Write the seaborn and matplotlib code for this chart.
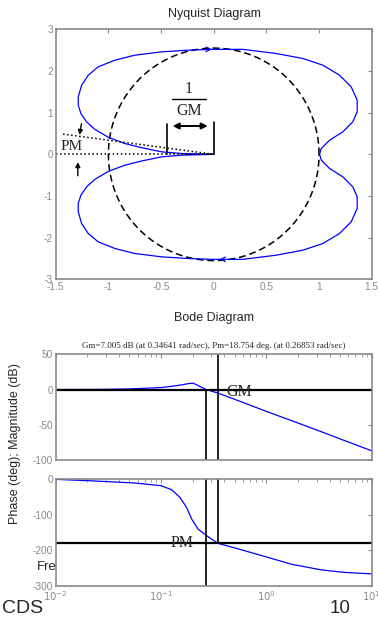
import numpy as np
import pandas as pd
import matplotlib
matplotlib.use("Agg")
import matplotlib.pyplot as plt
import seaborn as sns

sns.set_style("white")
plt.rcParams["font.family"] = ["Liberation Sans", "DejaVu Sans"]
plt.rcParams["axes.unicode_minus"] = False

# -----------------------------------------------------------------------------
# Data
# -----------------------------------------------------------------------------

# Nyquist curve, upper half, from the origin out to the point (1, 0)
nyq_re = [0.0, -0.306, -0.496, -0.685, -0.844, -1.001, -1.128, -1.207, -1.261,
          -1.286, -1.286, -1.254, -1.191, -1.097, -0.938, -0.749, -0.496, -0.243,
          -0.022, 0.278, 0.594, 0.847, 1.036, 1.194, 1.305, 1.362, 1.362, 1.320,
          1.226, 1.100, 1.021, 1.005]
nyq_im = [0.0, 0.02, 0.06, 0.16, 0.26, 0.41, 0.60, 0.78, 0.98,
          1.18, 1.38, 1.66, 1.90, 2.10, 2.26, 2.38, 2.46, 2.50,
          2.52, 2.52, 2.42, 2.30, 2.14, 1.90, 1.62, 1.30, 1.02, 0.78,
          0.54, 0.34, 0.14, 0.0]

# dashed reference circle (radius in x units / y units, the plot is not square)
circle_rx = 1.0
circle_ry = 2.55

# Bode magnitude
mag_w = [0.01, 0.02, 0.03, 0.05, 0.1, 0.13, 0.157, 0.18, 0.202, 0.2685,
         0.3464, 0.5, 1.04, 2.0, 3.34, 5.0, 10.0]
mag_db = [0.0, 0.1, 0.3, 0.8, 2.8, 4.8, 6.6, 8.3, 9.0, 0.0,
          -5.0, -13.9, -32.0, -47.6, -60.0, -70.0, -87.0]

# Bode phase
phase_w = [0.01, 0.0205, 0.0565, 0.1, 0.126, 0.151, 0.175, 0.195, 0.225, 0.271,
           0.344, 0.582, 1.04, 1.73, 3.34, 5.56, 10.0]
phase_deg = [-1, -4.7, -11.2, -18.7, -30, -51.5, -80, -112, -140.6, -159,
             -180, -198.7, -220, -239, -255, -262, -266]

# margins
gm_db = 7.005
gm_freq = 0.34641
pm_deg = 18.754
pm_freq = 0.26853

nyq_xticks = [-1.5, -1, -0.5, 0, 0.5, 1, 1.5]
nyq_xlabels = ["-1.5", "-1", "-0.5", "0", "0.5", "1", "1.5"]
nyq_yticks = [-3, -2, -1, 0, 1, 2, 3]
bode_xticks = [0.01, 0.1, 1, 10]
bode_xlabels = ["$10^{-2}$", "$10^{-1}$", "$10^{0}$", "$10^{1}$"]

grey = "#8a8a8a"
serif = ["Liberation Serif", "DejaVu Serif"]

# upper half + mirrored lower half -> closed contour
nyq = pd.DataFrame({
    "re": nyq_re + nyq_re[::-1][1:],
    "im": nyq_im + [-v for v in nyq_im[::-1][1:]],
})

fig = plt.figure(figsize=(3.78, 6.18), dpi=100)
ax_n = fig.add_axes([0.1474, 0.548, 0.836, 0.4045])
ax_m = fig.add_axes([0.1474, 0.2557, 0.836, 0.171])
ax_p = fig.add_axes([0.1474, 0.0518, 0.836, 0.1731])


def style_axes(ax):
    for s in ax.spines.values():
        s.set_color(grey)
        s.set_linewidth(1.2)
    ax.tick_params(which="both", direction="in", top=True, right=True,
                   color=grey, labelcolor=grey, labelsize=7.3, pad=2)
    ax.tick_params(which="major", length=3)
    ax.tick_params(which="minor", length=2)


# =============================================================================
# Nyquist Diagram
# =============================================================================
theta = np.linspace(0, 2 * np.pi, 300)
sns.lineplot(x=circle_rx * np.cos(theta), y=circle_ry * np.sin(theta), sort=False,
             estimator=None, ax=ax_n, color="black", linestyle=(0, (4.5, 2.5)),
             linewidth=1.1)
sns.lineplot(data=nyq, x="re", y="im", sort=False, estimator=None, ax=ax_n,
             color="blue", linewidth=0.9)

# direction arrows on the curve
i_top = 18
ax_n.annotate("", xy=(nyq_re[i_top] + 0.03, nyq_im[i_top]),
              xytext=(nyq_re[i_top] - 0.06, nyq_im[i_top]),
              arrowprops=dict(arrowstyle="->", color="blue", lw=0.9,
                              mutation_scale=8))
ax_n.annotate("", xy=(nyq_re[i_top] + 0.05, -nyq_im[i_top]),
              xytext=(nyq_re[i_top] + 0.14, -nyq_im[i_top]),
              arrowprops=dict(arrowstyle="->", color="blue", lw=0.9,
                              mutation_scale=8))

# phase margin construction
pm_len = 1.43
ax_n.plot([-1.5, 0], [0, 0], color="black", linestyle=":", linewidth=1.1)
ax_n.plot([-pm_len, 0], [pm_len * np.tan(np.radians(pm_deg)), 0],
          color="black", linestyle=":", linewidth=1.1)
ax_n.text(-1.349, 0.18, "PM", family=serif, fontsize=11, ha="center", va="center")
ax_n.annotate("", xy=(-1.28, 0.40), xytext=(-1.25, 0.80),
              arrowprops=dict(arrowstyle="-|>", color="black", lw=1.0,
                              mutation_scale=7))
ax_n.annotate("", xy=(-1.29, -0.12), xytext=(-1.29, -0.58),
              arrowprops=dict(arrowstyle="-|>", color="black", lw=1.0,
                              mutation_scale=7))

# gain margin construction
inv_gm = -1 / 10 ** (gm_db / 20)
ax_n.plot([inv_gm, inv_gm], [0, 0.74], color="black", linewidth=1.2)
ax_n.plot([0, 0], [0, 0.77], color="black", linewidth=1.2)
ax_n.annotate("", xy=(-0.03, 0.68), xytext=(inv_gm + 0.03, 0.68),
              arrowprops=dict(arrowstyle="<|-|>", color="black", lw=1.4,
                              mutation_scale=9))
ax_n.plot([-0.40, -0.07], [1.33, 1.33], color="black", linewidth=1.0)
ax_n.text(-0.234, 1.56, "1", family=serif, fontsize=11.5, ha="center", va="center")
ax_n.text(-0.234, 1.04, "GM", family=serif, fontsize=11.5, ha="center", va="center")

ax_n.set_xlim(-1.5, 1.5)
ax_n.set_ylim(-3, 3)
ax_n.set_xticks(nyq_xticks)
ax_n.set_xticklabels(nyq_xlabels)
ax_n.set_yticks(nyq_yticks)
ax_n.set_xlabel("")
ax_n.set_ylabel("")
style_axes(ax_n)
fig.text(0.566, 0.977, "Nyquist Diagram", ha="center", va="center", fontsize=9)

# =============================================================================
# Bode Diagram
# =============================================================================
sns.lineplot(x=mag_w, y=mag_db, ax=ax_m, color="blue", linewidth=0.9)
ax_m.axhline(0, color="black", linewidth=1.6)
ax_m.vlines(pm_freq, -100, 0, color="black", linewidth=1.2)
ax_m.vlines(gm_freq, -100, 50, color="black", linewidth=1.2)
ax_m.text(0.419, -3, "GM", family=serif, fontsize=11.5, ha="left", va="center")
ax_m.set_xscale("log")
ax_m.set_xlim(0.01, 10)
ax_m.set_ylim(-100, 50)
ax_m.set_yticks([-100, -50, 0, 50])
ax_m.set_xticks(bode_xticks)
ax_m.set_xticklabels([])
ax_m.set_xlabel("")
ax_m.set_ylabel("")
style_axes(ax_m)

sns.lineplot(x=phase_w, y=phase_deg, ax=ax_p, color="blue", linewidth=0.9)
ax_p.axhline(-180, color="black", linewidth=1.6)
ax_p.vlines(pm_freq, -300, 0, color="black", linewidth=1.2)
ax_p.vlines(gm_freq, -180, 0, color="black", linewidth=1.2)
ax_p.text(0.16, -180, "PM", family=serif, fontsize=11.5, ha="center", va="center")
ax_p.set_xscale("log")
ax_p.set_xlim(0.01, 10)
ax_p.set_ylim(-300, 0)
ax_p.set_yticks([-300, -200, -100, 0])
ax_p.set_xticks(bode_xticks)
ax_p.set_xticklabels(bode_xlabels)
ax_p.set_xlabel("")
ax_p.set_ylabel("")
style_axes(ax_p)

fig.text(0.566, 0.485, "Bode Diagram", ha="center", va="center", fontsize=9)
fig.text(0.566, 0.440,
         "Gm=%.3f dB (at %.5f rad/sec), Pm=%.3f deg. (at %.5f rad/sec)"
         % (gm_db, gm_freq, pm_deg, pm_freq),
         family=serif, ha="center", va="center", fontsize=6.5)
fig.text(0.04, 0.283, "Phase (deg); Magnitude (dB)", rotation=90,
         ha="center", va="center", fontsize=9)
fig.text(0.098, 0.0825, "Fre", ha="left", va="center", fontsize=9.5)

fig.text(0.004, 0.0146, "CDS", ha="left", va="center", fontsize=14)
fig.text(0.9, 0.0146, "10", ha="center", va="center", fontsize=13.5)

fig.savefig("out.png", dpi=100)
